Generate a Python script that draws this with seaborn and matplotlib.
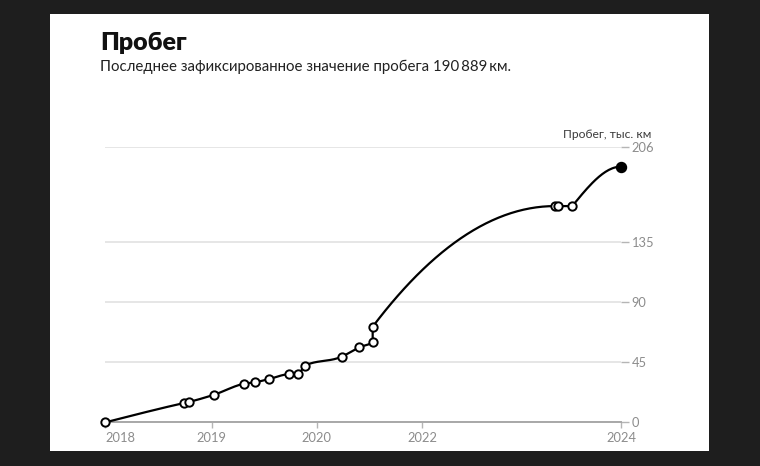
import numpy as np
import pandas as pd
import matplotlib
matplotlib.use("Agg")
import matplotlib.pyplot as plt
from matplotlib.patches import Rectangle
import seaborn as sns

# ---- data ----
dates = [2018.0, 2018.74, 2018.785, 2019.024, 2019.31, 2019.417, 2019.548,
         2019.735, 2019.824, 2019.888, 2020.478, 2020.811, 2021.065, 2021.065,
         2023.337, 2023.37, 2023.51, 2023.995]
mileage = [0.0, 14.4, 15.2, 20.6, 28.8, 29.9, 32.3, 35.8, 35.8, 42.3, 49.0,
           56.0, 60.0, 71.4, 161.5, 161.5, 161.5, 190.889]
x_ticks = [2018, 2019, 2020, 2022, 2024]
x_tick_labels = ["2018", "2019", "2020", "2022", "2024"]
y_ticks = [0, 45, 90, 135, 206]
y_tick_labels = ["0", "45", "90", "135", "206"]
title = "Пробег"
subtitle = "Последнее зафиксированное значение пробега 190\u2009889\u2009км."
axis_label = "Пробег, тыс. км"

# piecewise time scale (tick spacing of the original axis)
scale_years = [2018, 2019, 2020, 2022, 2024]
scale_pos = [0.0, 106.0, 211.0, 316.5, 515.5]


def fwd(x):
    return np.interp(x, scale_years, scale_pos)


def inv(u):
    return np.interp(u, scale_pos, scale_years)


def _slope3(u0, u1, u2, y0, y1, y2):
    h0, h1 = u1 - u0, u2 - u1
    s0 = (y1 - y0) / h0 if h0 != 0 else np.sign(y1 - y0) * np.inf
    s1 = (y2 - y1) / h1 if h1 != 0 else np.sign(y2 - y1) * np.inf
    if h0 == 0:
        p = s0 if np.isinf(s0) else s1
    else:
        p = (s0 * h1 + s1 * h0) / (h0 + h1)
    m = min(abs(s0), abs(s1), 0.5 * abs(p))
    v = (np.sign(s0) + np.sign(s1)) * m
    return 0.0 if not np.isfinite(v) else v


def monotone_curve(u, y, t_last=None, n=30):
    u = np.asarray(u, float)
    y = np.asarray(y, float)
    k = len(u)
    t = np.zeros(k)
    for i in range(1, k - 1):
        t[i] = _slope3(u[i - 1], u[i], u[i + 1], y[i - 1], y[i], y[i + 1])
    h = u[1] - u[0]
    t[0] = (3 * (y[1] - y[0]) / h - t[1]) / 2 if h else t[1]
    h = u[-1] - u[-2]
    t[-1] = (3 * (y[-1] - y[-2]) / h - t[-2]) / 2 if h else t[-2]
    if t_last is not None:
        t[-1] = t_last
        if k == 2:
            t[0] = (3 * (y[-1] - y[0]) / (u[-1] - u[0]) - t_last) / 2
    cu, cy = [u[0]], [y[0]]
    s = np.linspace(0, 1, n)[1:]
    for i in range(k - 1):
        du = u[i + 1] - u[i]
        if du == 0:
            cu.append(u[i + 1]); cy.append(y[i + 1]); continue
        d = du / 3
        p0 = (u[i], y[i]); p1 = (u[i] + d, y[i] + d * t[i])
        p2 = (u[i + 1] - d, y[i + 1] - d * t[i + 1]); p3 = (u[i + 1], y[i + 1])
        b0 = (1 - s) ** 3; b1 = 3 * s * (1 - s) ** 2; b2 = 3 * s ** 2 * (1 - s); b3 = s ** 3
        cu.extend(b0 * p0[0] + b1 * p1[0] + b2 * p2[0] + b3 * p3[0])
        cy.extend(b0 * p0[1] + b1 * p1[1] + b2 * p2[1] + b3 * p3[1])
    return np.array(cu), np.array(cy)


u_all = fwd(np.array(dates))
y_all = np.array(mileage)
ua, ya = monotone_curve(u_all[:-1], y_all[:-1])
ub, yb = monotone_curve(u_all[-2:], y_all[-2:], t_last=0.0)
curve = pd.DataFrame({"date": inv(np.concatenate([ua, ub[1:]])),
                      "km": np.concatenate([ya, yb[1:]])})
pts = pd.DataFrame({"date": dates, "km": mileage})

# ---- figure ----
sns.set_theme(style="white")
plt.rcParams["font.family"] = ["Lato", "DejaVu Sans"]

W, H = 760, 466
fig = plt.figure(figsize=(W / 100, H / 100), dpi=100, facecolor="#1e1e1e")
fig.patches.append(Rectangle((50 / W, 1 - 450.7 / H), 659 / W, 436.7 / H,
                             transform=fig.transFigure, facecolor="white",
                             edgecolor="none", zorder=-10))

ax = fig.add_axes([105.5 / W, 1 - 422.3 / H, (621 - 105.5) / W, (422.3 - 146.5) / H])
ax.set_facecolor("none")
ax.set_xscale("function", functions=(fwd, inv))

sns.lineplot(data=curve, x="date", y="km", sort=False, estimator=None,
             color="black", lw=1.6, ax=ax, clip_on=False, zorder=3)
sns.scatterplot(data=pts.iloc[:-1], x="date", y="km", s=36, color="white",
                edgecolor="black", linewidth=1.4, ax=ax, clip_on=False, zorder=4)
sns.scatterplot(data=pts.iloc[-1:], x="date", y="km", s=52, color="black",
                edgecolor="black", linewidth=1.0, ax=ax, clip_on=False, zorder=5)

ax.set_xlim(2018, 2024)
ax.set_ylim(0, 206)
ax.set_xticks(x_ticks)
ax.set_xticklabels(x_tick_labels)
ax.set_yticks(y_ticks)
ax.set_yticklabels(y_tick_labels)
ax.yaxis.tick_right()
ax.set_xlabel("")
ax.set_ylabel("")
ax.tick_params(axis="x", length=4, width=1, color="#b5b5b5", pad=3,
               labelsize=9.3, labelcolor="#8c8c8c", direction="out", bottom=True)
ax.tick_params(axis="y", length=6, width=1, color="#b5b5b5", pad=1.5,
               labelsize=9.3, labelcolor="#8c8c8c", direction="out", right=True, left=False)
ax.get_xticklabels()[0].set_ha("left")
ax.grid(axis="y", color="#e4e4e4", lw=1.3)
ax.grid(axis="x", visible=False)
for sp in ["left", "right", "top"]:
    ax.spines[sp].set_visible(False)
ax.spines["bottom"].set_color("#a8a8a8")
ax.spines["bottom"].set_linewidth(1.4)
ax.set_axisbelow(True)

fig.text(100 / W, 1 - 50 / H, title, fontsize=18, fontweight="heavy",
         color="#111111", va="baseline", ha="left")
fig.text(100 / W, 1 - 71 / H, subtitle, fontsize=10.8, color="#222222",
         va="baseline", ha="left")
fig.text(651 / W, 1 - 138.3 / H, axis_label, fontsize=8.7, color="#3a3a3a",
         va="baseline", ha="right")

fig.savefig("out.png", dpi=100, facecolor=fig.get_facecolor())
